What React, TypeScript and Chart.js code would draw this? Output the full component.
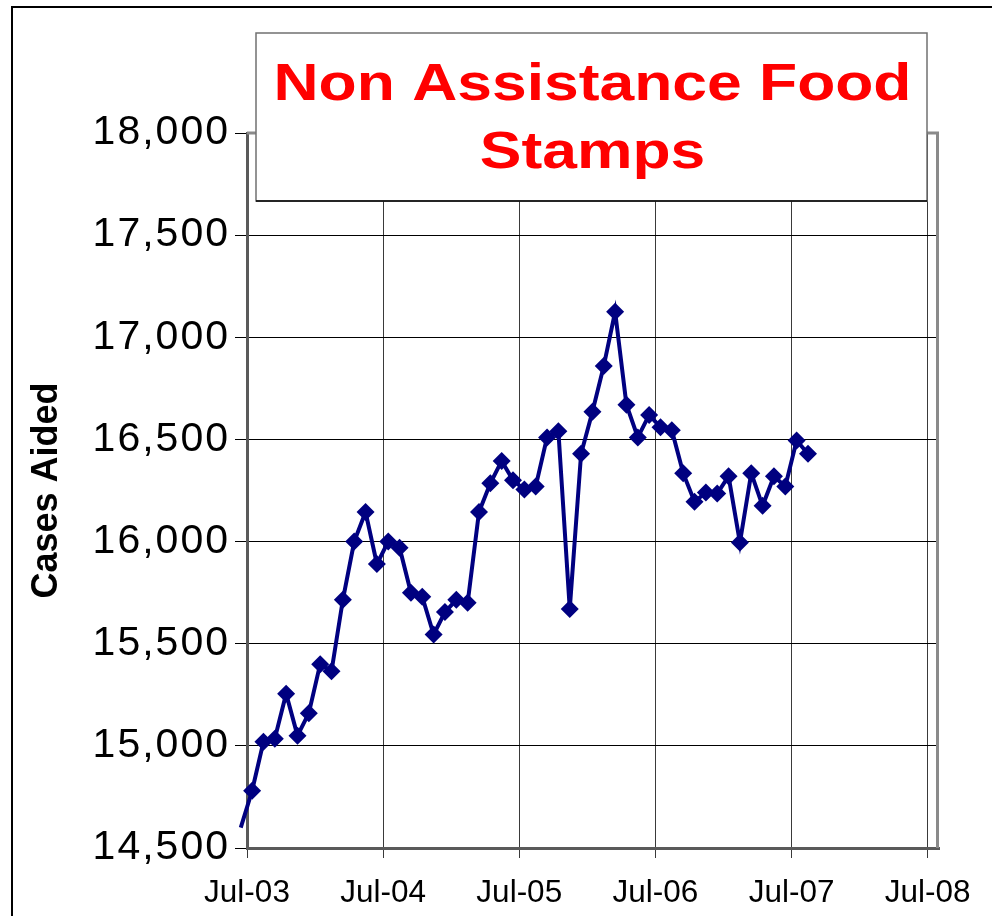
import React, { useEffect, useRef } from "react";
import { Chart, registerables, LinearScale } from "chart.js";

Chart.register(...registerables);

const TITLE_LINES = ["Non Assistance Food", "Stamps"];
const Y_TITLE = "Cases Aided";

const X_TICK_MONTHS = [0, 12, 24, 36, 48, 60];
const X_TICK_LABELS = ["Jul-03", "Jul-04", "Jul-05", "Jul-06", "Jul-07", "Jul-08"];

const Y_MIN = 14500;
const Y_MAX = 18000;
const Y_STEP = 500;

const MONTHS = [
  "Jun-03", "Jul-03", "Aug-03", "Sep-03", "Oct-03", "Nov-03", "Dec-03",
  "Jan-04", "Feb-04", "Mar-04", "Apr-04", "May-04", "Jun-04", "Jul-04", "Aug-04", "Sep-04", "Oct-04", "Nov-04", "Dec-04",
  "Jan-05", "Feb-05", "Mar-05", "Apr-05", "May-05", "Jun-05", "Jul-05", "Aug-05", "Sep-05", "Oct-05", "Nov-05", "Dec-05",
  "Jan-06", "Feb-06", "Mar-06", "Apr-06", "May-06", "Jun-06", "Jul-06", "Aug-06", "Sep-06", "Oct-06", "Nov-06", "Dec-06",
  "Jan-07", "Feb-07", "Mar-07", "Apr-07", "May-07", "Jun-07", "Jul-07", "Aug-07",
];

const CASES = [
  14600, 14780, 15020, 15035, 15255, 15050, 15160,
  15400, 15365, 15715, 16000, 16145, 15890, 16000, 15970, 15750, 15730, 15545, 15655,
  15715, 15700, 16145, 16285, 16395, 16300, 16255, 16270, 16510, 16540, 15670, 16430,
  16635, 16860, 17125, 16670, 16510, 16620, 16560, 16545, 16335, 16195, 16240, 16235,
  16320, 15995, 16335, 16175, 16320, 16270, 16495, 16430,
];

// reporting date within each month (fraction of a month after the 1st)
const POINT_DAY_OFFSET = 0.45;
const X_AXIS_END = 61;

const MONTH_NAMES = ["Jan", "Feb", "Mar", "Apr", "May", "Jun", "Jul", "Aug", "Sep", "Oct", "Nov", "Dec"];
function monthsSinceJul03(label: string): number {
  const [m, y] = label.split("-");
  return (2000 + Number(y) - 2003) * 12 + MONTH_NAMES.indexOf(m) - 6;
}

const FONT = "'Liberation Sans', Arial, sans-serif";

const decorPlugin = {
  id: "decor",
  beforeDraw(chart: any) {
    const ctx = chart.ctx;
    ctx.save();
    ctx.fillStyle = "#ffffff";
    ctx.fillRect(0, 0, chart.width, chart.height);
    ctx.strokeStyle = "#000000";
    ctx.lineWidth = 2;
    ctx.strokeRect(12, 7, chart.width + 20, chart.height + 20);
    ctx.restore();
  },
  afterDraw(chart: any) {
    const ctx = chart.ctx;
    const a = chart.chartArea;
    ctx.save();
    // plot area border (top & right)
    ctx.strokeStyle = "#8a8a8a";
    ctx.lineWidth = 3;
    ctx.beginPath();
    ctx.moveTo(a.left, a.top);
    ctx.lineTo(a.right - 1.5, a.top);
    ctx.lineTo(a.right - 1.5, a.bottom);
    ctx.stroke();

    // title box
    const bx = 256, by = 33, bw = 671, bh = 168;
    ctx.fillStyle = "#ffffff";
    ctx.fillRect(bx, by, bw, bh);
    ctx.lineWidth = 1.5;
    ctx.strokeStyle = "#707070";
    ctx.strokeRect(bx, by, bw, bh);
    ctx.strokeStyle = "#000000";
    ctx.beginPath();
    ctx.moveTo(bx, by + bh);
    ctx.lineTo(bx + bw, by + bh);
    ctx.stroke();

    ctx.fillStyle = "#ff0000";
    ctx.font = `bold 52px ${FONT}`;
    ctx.textAlign = "center";
    ctx.textBaseline = "alphabetic";
    const cx = bx + bw / 2 + 1;
    const baselines = [100, 168];
    TITLE_LINES.forEach((line, i) => {
      ctx.save();
      ctx.translate(cx, baselines[i]);
      ctx.scale(1.2, 1);
      ctx.fillText(line, 0, 0);
      ctx.restore();
    });
    ctx.restore();
  },
};

export default function App() {
  const ref = useRef<HTMLCanvasElement>(null);

  useEffect(() => {
    if (!ref.current) return;
    const points = MONTHS.map((m, i) => ({ x: monthsSinceJul03(m) + POINT_DAY_OFFSET, y: CASES[i] }));
    const chart = new Chart(ref.current, {
      type: "line",
      data: {
        datasets: [
          {
            data: points,
            borderColor: "#000080",
            backgroundColor: "#000080",
            borderWidth: 4,
            pointStyle: "rectRot",
            pointRadius: points.map((p) => (p.x < 0 ? 0 : 9)),
            pointBorderWidth: 0,
            pointBackgroundColor: "#000080",
            tension: 0,
            clip: false as any,
          },
        ],
      },
      options: {
        animation: false,
        responsive: false,
        events: [],
        layout: { padding: { top: 133, right: 53, left: 0, bottom: 0 } },
        plugins: {
          legend: { display: false },
          title: { display: false },
          tooltip: { enabled: false },
        },
        scales: {
          x: {
            type: "linear",
            min: 0,
            max: X_AXIS_END,
            afterBuildTicks: (s: any) => {
              s.ticks = X_TICK_MONTHS.map((v) => ({ value: v }));
            },
            afterFit: (s: any) => {
              s.height = 68;
            },
            grid: { color: "#3a3a3a", lineWidth: 1, tickLength: 10, tickColor: "#3a3a3a" },
            border: { color: "#5a5a5a", width: 3 },
            ticks: {
              autoSkip: false,
              maxRotation: 0,
              padding: 16,
              color: "#000",
              font: { family: FONT, size: 31.5 },
              callback: (v: any) => {
                const i = X_TICK_MONTHS.indexOf(Number(v));
                return i >= 0 ? X_TICK_LABELS[i] : "";
              },
            },
          },
          y: {
            min: Y_MIN,
            max: Y_MAX,
            afterFit: (s: any) => {
              s.width = 247;
            },
            grid: { color: "#000", lineWidth: 1, tickLength: 12, tickColor: "#000" },
            border: { color: "#5a5a5a", width: 3 },
            title: {
              display: true,
              text: Y_TITLE,
              color: "#000",
              font: { family: FONT, size: 36, weight: "bold" },
              padding: { top: 25, bottom: 0 },
            },
            ticks: {
              stepSize: Y_STEP,
              padding: 5,
              color: "#000",
              font: { family: FONT, size: 41 },
              callback: (v: any) => Number(v).toLocaleString("en-US"),
            },
          },
        },
      },
      plugins: [decorPlugin],
    });
    // wider letter spacing for the value-axis labels, as in the original
    const yScale: any = chart.scales.y;
    yScale.drawLabels = function (area: any) {
      const ctx = this.ctx;
      ctx.save();
      ctx.letterSpacing = "2px";
      LinearScale.prototype.drawLabels.call(this, area);
      ctx.restore();
    };
    chart.draw();
    return () => chart.destroy();
  }, []);

  return (
    <div style={{ position: "fixed", left: 0, top: 0, width: 992, height: 916, background: "#fff" }}>
      <canvas ref={ref} width={992} height={916} style={{ display: "block" }} />
    </div>
  );
}
